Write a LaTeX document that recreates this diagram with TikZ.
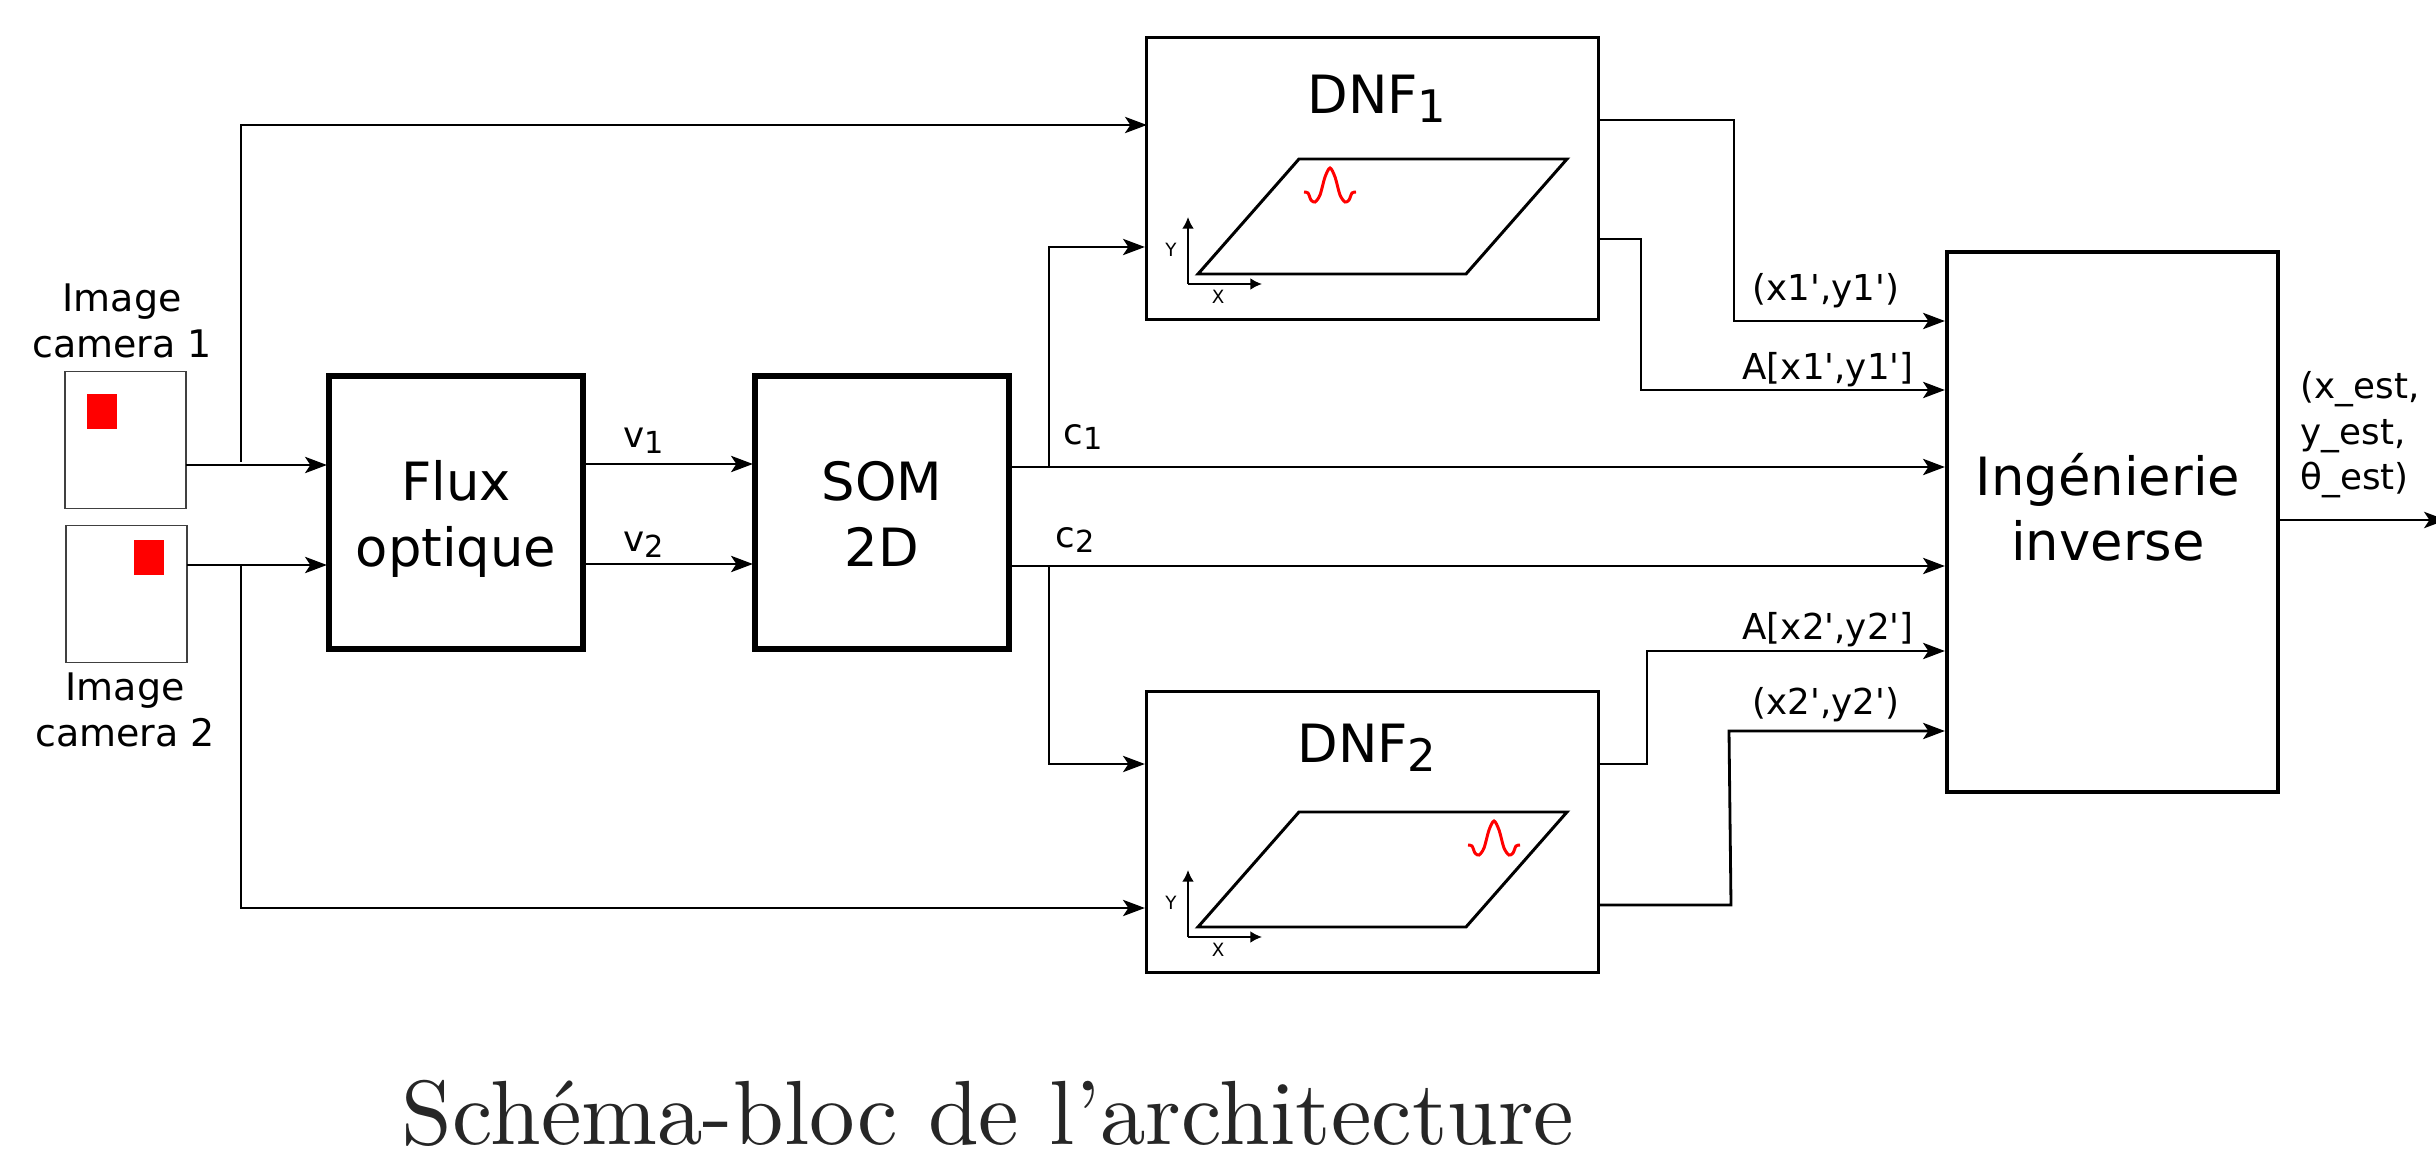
\documentclass[tikz,border=0pt]{standalone}
\usepackage{fontspec}
\usepackage{tikz}
\usetikzlibrary{arrows.meta}
\newfontfamily\blockfont{DejaVu Sans}
\def\subidx#1{\raisebox{-0.3ex}{\scalebox{0.85}{#1}}}
\def\camnode{\node[rectangle,draw=black!75,line width=0.45pt,outer sep=0,minimum width=1.21cm,minimum height=1.37cm]}
\def\bignode{\node[rectangle,draw=black,line width=1.7pt,outer sep=0,minimum width=2.54cm,minimum height=2.73cm,align=center,font=\bigfont,text height=30.6pt,text depth=0pt]}
\def\dnfnode{\node[rectangle,draw=black,line width=0.85pt,outer sep=0,minimum width=4.51cm,minimum height=2.81cm]}
\def\bigfont{\blockfont\fontsize{15}{18.6}\selectfont}
\def\labfont{\blockfont\fontsize{10.15}{12.9}\selectfont}
\def\imgfont{\blockfont\fontsize{10.8}{13.3}\selectfont}
\def\axfont{\blockfont\fontsize{5.2}{6}\selectfont}
\tikzset{
  link/.style={line width=0.8pt,-{Stealth[length=6.2pt,width=4.6pt,inset=1.5pt]}},
  lab/.style={font=\labfont,inner sep=0,align=center},
  axis/.style={line width=0.5pt,-{Latex[length=3.3pt,width=3.3pt]}}
}
\begin{document}
\begin{tikzpicture}[x=0.01cm,y=-0.01cm]
\useasboundingbox (0,0) rectangle (2436,1152);
% cameras
\camnode (cam1) at (125.5,440) {};
\camnode (cam2) at (126.5,594) {};
\fill[red] (87,394) rectangle (117,429);
\fill[red] (134,540) rectangle (164,575);
\node[lab,font=\imgfont] (cam1lab) at (122,321) {Image\\camera 1};
\node[lab,font=\imgfont] (cam2lab) at (125,710) {Image\\camera 2};
% blocks
\bignode (flux) at (456,512.5) {Flux\\optique};
\bignode (som) at (882,512.5) {SOM\\2D};
\dnfnode (dnf1) at (1372.5,178.5) {};
\dnfnode (dnf2) at (1372.5,832) {};
\node[rectangle,draw=black,line width=1.3pt,outer sep=0,minimum width=3.31cm,minimum height=5.4cm] (inv) at (2112.5,522) {};
\node[font=\bigfont,align=center,inner sep=0] (invlab) at (2108,507) {Ingénierie\\inverse};
\node[font=\bigfont,inner sep=0] (dnf1lab) at (1377,99) {DNF\subidx{1}};
\node[font=\bigfont,inner sep=0] (dnf2lab) at (1367,748) {DNF\subidx{2}};
% planes
\foreach \dy/\gx in {0/0,653/164} {
  \begin{scope}[yshift=-\dy*0.01cm]
  \draw[line width=0.85pt] (1198,274) -- (1466,274) -- (1567,159) -- (1299,159) -- cycle;
  \draw[axis] (1188,284) -- (1188,217);
  \draw[axis] (1188,284) -- (1262,284);
  \node[font=\axfont,inner sep=0] at (1171,250) {Y};
  \node[font=\axfont,inner sep=0] at (1218,297) {X};
  \draw[red,line width=0.85pt,xshift=\gx*0.01cm] plot[smooth] coordinates {(1304,192) (1308,193) (1311,200) (1315,202) (1320,195) (1325,177) (1330,168) (1335,177) (1340,195) (1345,202) (1349,200) (1352,193) (1356,192)};
  \end{scope}
}
% connectors
\coordinate (est) at (2446,520);
\draw[link] (cam1.east |- 0,465) -- ([xshift=-0.02cm]flux.west |- 0,465);
\draw[link] (cam2.east |- 0,565) -- ([xshift=-0.02cm]flux.west |- 0,565);
\draw[link] (241,462) -- (241,125) -- (dnf1.west |- 0,125);
\draw[link] (241,565) -- (241,908) -- ([xshift=-0.02cm]dnf2.west |- 0,908);
\draw[link] (flux.east |- 0,464) -- ([xshift=-0.02cm]som.west |- 0,464);
\draw[link] (flux.east |- 0,564) -- ([xshift=-0.02cm]som.west |- 0,564);
\draw[link] (som.east |- 0,467) -- ([xshift=-0.02cm]inv.west |- 0,467);
\draw[link] (som.east |- 0,566) -- ([xshift=-0.02cm]inv.west |- 0,566);
\draw[link] (1049,467) -- (1049,247) -- ([xshift=-0.02cm]dnf1.west |- 0,247);
\draw[link] (1049,566) -- (1049,764) -- ([xshift=-0.02cm]dnf2.west |- 0,764);
\draw[link] (dnf1.east |- 0,120) -- (1734,120) -- (1734,321) -- ([xshift=-0.02cm]inv.west |- 0,321);
\draw[link] (dnf1.east |- 0,239) -- (1641,239) -- (1641,390) -- ([xshift=-0.02cm]inv.west |- 0,390);
\draw[link] (dnf2.east |- 0,764) -- (1647,764) -- (1647,651) -- ([xshift=-0.02cm]inv.west |- 0,651);
\draw[link] (dnf2.east |- 0,905) -- (1731,905) -- (1729,731) -- ([xshift=-0.02cm]inv.west |- 0,731);
\draw[link] (inv.east |- 0,520) -- (est);
% labels
\node[lab] (v1) at (644,441) {v\subidx{1}};
\node[lab] (v2) at (644,545) {v\subidx{2}};
\node[lab] (c1) at (1083,437) {c\subidx{1}};
\node[lab] (c2) at (1075,540) {c\subidx{2}};
\node[lab] (p1) at (1826,291) {(x1',y1')};
\node[lab] (a1) at (1828,370) {A[x1',y1']};
\node[lab] (a2) at (1828,630) {A[x2',y2']};
\node[lab] (p2) at (1826,705) {(x2',y2')};
\node[lab,align=left,anchor=west] (estlab) at (2300,435) {(x\_est,\\y\_est,\\θ\_est)};
\node[inner sep=0,anchor=base,text=black!85] (titre) at (988,1144) {\resizebox{11.72cm}{!}{\fontsize{10}{12}\selectfont Schéma-bloc de l’architecture}};
\end{tikzpicture}
\end{document}
